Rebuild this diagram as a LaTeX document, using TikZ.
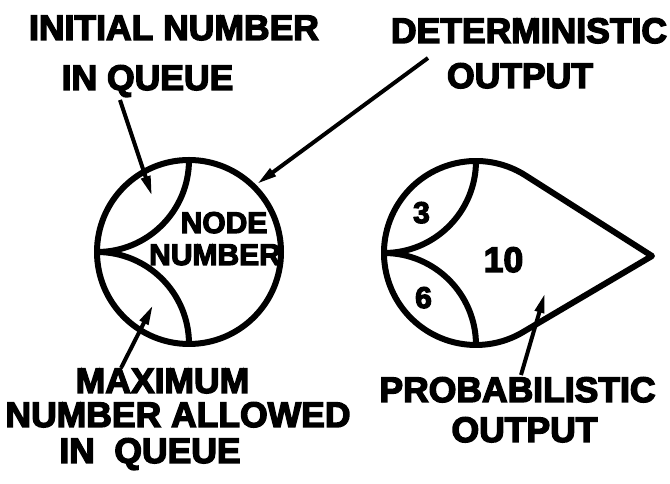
\documentclass[tikz,border=0pt]{standalone}
\usepackage{fontspec}
\setmainfont{Liberation Sans}[BoldFeatures={FakeBold=4}]
\usetikzlibrary{arrows.meta}
\begin{document}
\begin{tikzpicture}[x=1pt,y=1pt,
  lbl/.style={font=\bfseries\fontsize{35.5}{40}\selectfont, anchor=base, inner sep=0pt},
  inlbl/.style={font=\bfseries\fontsize{30}{34}\selectfont, anchor=base, inner sep=0pt},
  outline/.style={line width=6pt, line join=round},
  pointer/.style={line width=4pt, -{Triangle[length=20pt,width=9pt]}},
]
\useasboundingbox (0,0) rectangle (670,484);

% left node symbol
\coordinate (lc) at (189,232);
\draw[outline] (lc) circle[radius=92];
\draw[outline] (97,232) arc[start angle=270, end angle=360, radius=92];
\draw[outline] (97,232) arc[start angle=90, end angle=0, radius=92];

% right node symbol
\coordinate (rc) at (476,231);
\coordinate (apex) at (652,228);
\coordinate (t1) at (525.4,308.6);
\draw[outline] (t1) arc[start angle=57.51, end angle=300.53, radius=92] -- (apex) -- cycle;
\draw[outline] (384,231) arc[start angle=270, end angle=360, radius=92];
\draw[outline] (384,231) arc[start angle=90, end angle=0, radius=92];

% labels inside
\node[inlbl] (nn1) at (224,251) {NODE};
\node[inlbl] (nn2) at (215,219) {NUMBER};
\node[inlbl] (three) at (421.5,261) {3};
\node[inlbl] (six) at (423.5,176) {6};
\node[lbl] (ten) at (503.5,212) {10};

% outer labels
\node[lbl] (init1) at (174,444) {INITIAL NUMBER};
\node[lbl] (init2) at (147.5,394) {IN QUEUE};
\node[lbl] (det1) at (529,441) {DETERMINISTIC};
\node[lbl] (det2) at (520,396) {OUTPUT};
\node[lbl] (max1) at (162.5,91) {MAXIMUM};
\node[lbl] (max2) at (178,57) {NUMBER ALLOWED};
\node[lbl] (max3) at (150,21) {IN\hspace{0.55em}QUEUE};
\node[lbl] (prob1) at (517.5,82) {PROBABILISTIC};
\node[lbl] (prob2) at (524.5,42) {OUTPUT};

% pointers
\coordinate (a1s) at (120,384); \coordinate (a1t) at (152,288);
\coordinate (a2s) at (428,426); \coordinate (a2t) at (257,300);
\coordinate (a3s) at (121,116); \coordinate (a3t) at (153,179);
\coordinate (a4s) at (521,109); \coordinate (a4t) at (545,191);
\draw[pointer] (a1s) -- (a1t);
\draw[pointer] (a2s) -- (a2t);
\draw[pointer] (a3s) -- (a3t);
\draw[pointer] (a4s) -- (a4t);
\end{tikzpicture}
\end{document}
